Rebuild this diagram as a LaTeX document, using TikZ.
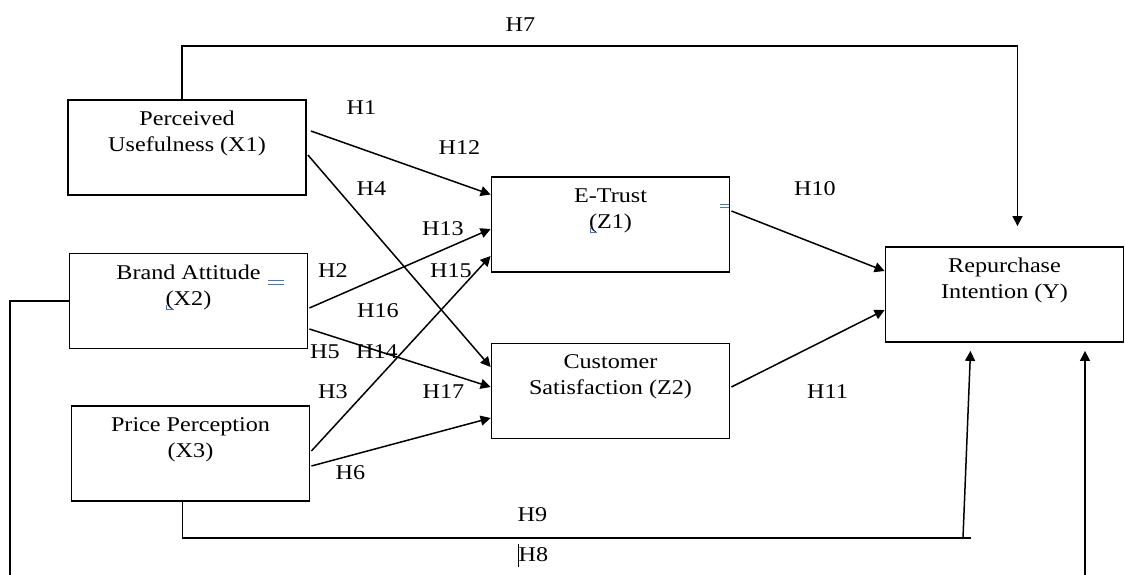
\documentclass[tikz,border=0pt]{standalone}
\usepackage{fontspec}
\setmainfont{Liberation Serif}[FakeStretch=1.15]
\usetikzlibrary{calc,arrows.meta}
\definecolor{editblue}{RGB}{66,114,224}

\begin{document}
\begin{tikzpicture}[
    x=0.5pt,y=-0.5pt,
    line width=0.75pt,
    >={Triangle[length=5pt,width=5pt]},
    font=\fontsize{10.5}{13}\selectfont,
    box/.style={draw,line width=0.9pt,minimum width=119pt,minimum height=47.5pt,inner sep=0pt},
    boxtext/.style={anchor=north,align=center,inner sep=0pt},
    hyp/.style={inner sep=0pt},
    editmark/.style={draw=editblue,line width=0.5pt},
  ]

  \useasboundingbox (0,0) rectangle (1125,574);
  \clip (0,0) rectangle (1125,574);

  % constructs

  \node (x1) at (187,147.5) [box] {};
  \node (x2) at (188.5,301) [box] {};
  \node (x3) at (190.5,453.5) [box] {};
  \node (z1) at (610.5,224.5) [box] {};
  \node (z2) at (610.5,391) [box] {};
  \node (y) at (1004.5,294.5) [box] {};

  \node (x1t) at ($(x1.north) + (0,11.5)$) [boxtext] {Perceived\\Usefulness (X1)};
  \node (x2t) at ($(x2.north) + (0,11.5)$) [boxtext] {Brand Attitude\\(X2)};
  \node (x3t) at ($(x3.north) + (0,11.5)$) [boxtext] {Price Perception\\(X3)};
  \node (z1t) at ($(z1.north) + (0,11.5)$) [boxtext] {E-Trust\\(Z1)};
  \node (z2t) at ($(z2.north) + (0,11.5)$) [boxtext] {Customer\\Satisfaction (Z2)};
  \node (yt) at ($(y.north) + (0,11.5)$) [boxtext] {Repurchase\\Intention (Y)};

  % leftover edit marks
  \draw[editmark] (268,280) -- (284,280) (268,284) -- (284,284);
  \draw[editmark] (166,305) -- (166,309) -- (174,309);
  \draw[editmark] (720,204) -- (729,204) (720,207.5) -- (729,207.5);
  \draw[editmark] (590,228) -- (590,232.5) -- (597,232.5);

  % paths to e-trust and satisfaction

  \draw[->] ($(x1.east) + (4,-16.5)$) -- ($(z1.west) + (0,-30)$);
  \draw[->] ($(x1.east) + (1,7.5)$) -- ($(z2.west) + (0,-24)$);
  \draw[->] ($(x2.east) + (1,7)$) -- ($(z1.west) + (0,4.5)$);
  \draw[->] ($(x2.east) + (1,28)$) -- ($(z2.west) + (0,-4)$);
  \draw[->] ($(x3.east) + (1,-2.5)$) -- ($(z1.west) + (0,31.5)$);
  \draw[->] ($(x3.east) + (1,12.5)$) -- ($(z2.west) + (0,27)$);

  % paths to repurchase intention

  \draw[->] ($(z1.east) + (1,-13.5)$) -- ($(y.west) + (0,-23.5)$);
  \draw[->] ($(z2.east) + (1,-4)$) -- ($(y.west) + (0,15.5)$);

  \draw[->] ($(x1.north) + (-5,0)$) |- ($(y.north) + (13,-200)$) -- ($(y.north) + (13,-20)$);

  \draw ($(x3.south) + (-8,0)$) |- ($(y.south) + (-33.5,195)$);
  \draw[->] ($(y.south) + (-41.5,195)$) -- ($(y.south) + (-34,8)$);

  \coordinate (h8turn) at (10,600);
  \draw[->] (x2.west) -| (h8turn) -| ($(y.south) + (80.5,8)$);

  % hypothesis labels

  \foreach \h/\x/\y in {H7/520.5/24.5, H1/361.5/108, H12/459.5/147.5, H4/371.5/189,
      H13/443/229, H2/333/270.5, H15/451/270.5, H16/378/310.5, H5/325/352,
      H14/377/352, H3/333/391.5, H17/443.5/391.5, H6/350.5/473, H9/532.5/515,
      H8/533.5/555, H10/815/189, H11/827.5/392}
    \node (\h) at (\x,\y) [hyp] {\h};

  \draw[line width=0.5pt] (518.5,543.5) -- (518.5,566.5); % cursor

\end{tikzpicture}
\end{document}
